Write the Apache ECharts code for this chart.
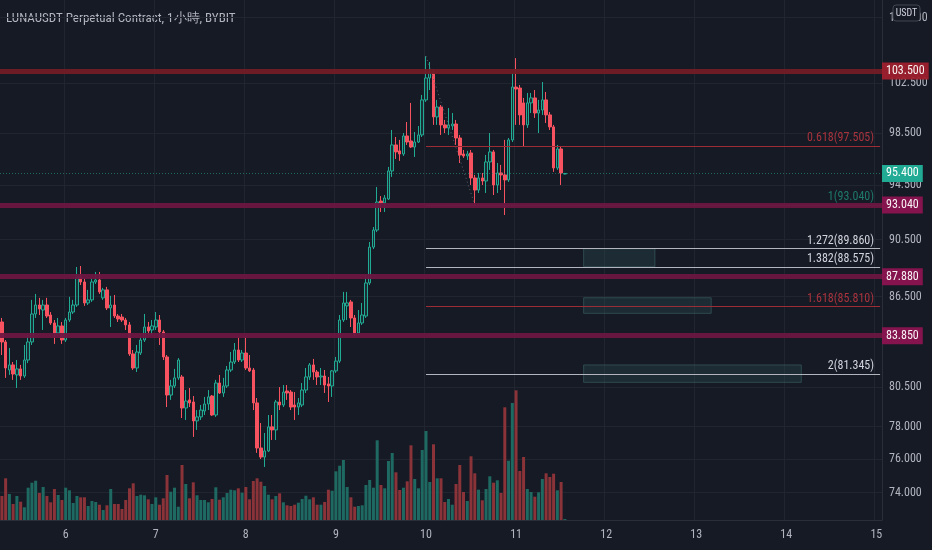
<!DOCTYPE html>
<html><head><meta charset="utf-8">
<script src="https://cdn.jsdelivr.net/npm/echarts@6/dist/echarts.min.js"></script>
<style>html,body{margin:0;padding:0;background:#161a25;}#c{width:932px;height:550px;}</style>
</head><body><div id="c"></div><script>
// ---- data ----
const titleText = 'LUNAUSDT Perpetual Contract, 1小時, BYBIT';
const startDay = 5, startHour = 7, slotCount = 235; // hourly slots on the time scale
// [open, close, low, high]
const candles = [
[84.77,83.43,82.57,85.04],[83.43,81.72,81.08,83.56],[81.59,81.92,81.27,83.03],[81.92,81.33,80.95,82.11],
[81.27,81.66,80.43,82.24],[81.66,81.20,80.95,81.92],[81.20,82.24,81.08,83.23],[82.24,83.43,82.04,83.89],
[83.43,85.31,83.23,86.27],[85.31,85.92,85.04,86.68],[85.92,85.65,85.24,86.41],[85.58,85.92,84.23,86.27],
[85.92,85.17,85.04,86.41],[85.24,84.70,84.57,85.44],[84.70,84.03,83.30,84.90],[84.03,84.50,83.83,85.04],
[84.50,83.56,83.30,84.77],[83.56,84.90,83.43,85.04],[84.90,85.44,84.77,86.48],[85.44,85.92,85.31,86.27],
[85.92,87.86,85.79,88.56],[87.86,87.51,87.30,88.63],[87.51,86.06,85.86,87.79],[86.06,86.27,85.92,86.96],
[86.27,87.51,86.13,87.79],[87.51,87.65,87.37,88.21],[87.65,86.82,86.68,88.21],[86.41,86.96,86.27,87.10],
[86.96,85.72,85.58,87.17],[85.72,85.92,84.43,86.55],[85.92,85.17,85.04,86.61],[85.17,84.97,84.77,85.31],
[85.10,84.90,84.77,85.31],[84.90,84.57,84.23,85.04],[84.57,82.64,82.51,84.77],[82.64,81.72,81.59,82.90],
[81.72,82.77,81.46,83.23],[82.70,83.56,82.57,83.83],[83.56,84.43,83.43,85.31],[84.43,84.16,83.89,84.77],
[84.23,84.50,83.89,84.90],[84.43,84.90,84.23,85.44],[84.90,84.10,83.23,85.24],[84.10,82.44,82.24,84.23],
[82.44,79.98,79.22,82.57],[79.98,80.56,79.67,80.95],[80.56,81.08,80.43,81.66],[81.08,82.24,80.95,82.37],
[81.14,79.16,78.53,81.27],[79.16,79.60,78.41,80.30],[79.67,79.48,79.22,80.43],[79.54,78.35,77.36,79.92],
[78.35,78.60,77.79,79.03],[78.60,79.03,78.41,79.35],[78.97,79.41,78.72,79.86],[79.41,79.86,79.03,80.30],
[79.92,78.72,78.66,79.98],[78.72,80.75,78.60,80.95],[80.75,80.11,80.05,81.27],[80.11,80.56,79.86,81.08],
[80.56,81.59,80.43,81.85],[81.59,82.11,81.46,82.77],[82.11,82.90,81.98,83.36],[82.90,82.24,82.11,83.76],
[82.24,82.70,82.11,82.90],[82.70,81.72,81.59,83.83],[81.72,81.53,81.46,82.57],[81.59,79.48,79.03,81.72],
[79.48,76.68,76.38,79.79],[76.68,76.13,76.01,78.22],[76.13,76.50,75.53,77.60],[76.50,77.98,76.44,78.72],
[77.98,77.79,77.17,78.72],[77.79,79.54,77.17,79.67],[79.54,79.35,79.03,80.49],[79.35,80.17,79.22,80.62],
[80.24,80.11,79.67,80.62],[80.17,79.22,79.03,80.30],[79.35,79.22,78.41,80.17],[79.22,79.48,78.72,79.79],
[79.35,80.30,79.22,80.75],[80.30,81.14,80.11,81.72],[81.14,81.92,80.95,82.04],[81.92,81.46,80.95,82.31],
[81.46,81.14,80.62,81.59],[81.14,81.20,80.62,81.72],[81.20,80.62,80.11,81.59],[80.69,80.56,79.54,81.14],
[80.56,81.53,79.86,81.59],[81.53,82.17,81.40,82.44],[82.17,84.90,82.04,85.24],[84.90,86.06,84.77,86.82],
[85.86,86.06,84.90,86.82],[86.13,85.04,84.43,86.27],[85.04,84.03,83.83,85.24],[84.03,84.70,83.89,85.58],
[84.70,85.24,84.57,86.06],[85.17,87.44,85.04,88.00],[87.44,89.97,87.30,90.34],[89.97,91.20,89.83,91.42],
[91.20,93.26,91.05,94.38],[93.33,93.19,92.52,93.70],[93.19,93.56,92.52,93.78],[93.48,95.59,93.41,95.90],
[95.59,97.59,95.14,98.76],[97.59,97.05,96.51,98.21],[97.13,96.89,96.36,97.98],[96.89,98.29,96.74,98.52],
[98.29,97.82,97.59,99.39],[97.90,97.43,97.36,100.91],[97.43,97.82,96.66,98.60],[97.82,98.37,97.74,99.07],
[98.37,101.15,98.21,101.55],[101.15,102.93,100.99,104.73],[102.93,103.34,101.95,104.25],[103.34,99.79,99.16,103.59],
[99.79,100.58,99.16,101.15],[100.58,99.16,98.37,100.74],[99.16,98.92,98.52,99.55],[98.92,99.16,98.37,100.50],
[99.08,99.23,98.76,100.10],[99.23,98.13,97.59,99.55],[98.13,96.82,96.20,98.37],[96.89,96.74,96.59,97.20],
[96.74,96.89,96.43,97.13],[96.97,95.06,94.53,97.20],[95.06,94.15,93.04,95.29],[94.15,95.06,93.93,95.44],
[95.06,94.83,94.53,95.44],[94.83,96.28,93.93,96.82],[96.28,97.05,95.67,98.52],[97.05,94.53,93.78,97.20],
[94.53,95.44,93.93,96.20],[95.44,95.29,94.15,96.05],[95.29,94.91,92.30,97.98],[94.91,97.98,94.76,98.13],
[97.98,102.19,97.82,103.34],[102.19,102.03,99.16,104.57],[102.11,99.95,99.16,102.36],[100.91,99.16,97.43,101.31],
[99.16,100.91,98.92,101.71],[100.91,101.31,100.10,101.71],[101.31,100.10,99.71,101.95],[100.10,100.34,98.52,101.15],
[100.34,101.15,99.95,102.60],[101.15,99.95,99.31,101.79],[99.95,99.00,98.76,100.18],[99.00,95.82,95.52,99.16],
[95.82,97.28,95.67,97.59],[97.28,95.44,94.53,97.43],[95.36,95.40,95.33,95.44]
];
const volumes = [
240,417,260,160,240,183,127,323,373,393,270,330,240,177,310,250,200,323,297,170,
240,227,227,140,190,180,153,100,147,310,160,160,110,200,317,367,240,253,247,207,
160,227,153,217,450,283,323,133,550,360,217,377,247,200,200,177,210,327,203,227,
270,303,297,317,273,330,207,390,417,383,340,253,207,240,267,177,147,140,153,173,
210,243,207,227,153,153,180,303,293,487,543,600,330,227,133,140,147,350,400,323,
797,350,317,590,670,477,300,323,387,747,410,317,700,890,380,757,417,417,180,210,
153,360,550,280,190,637,467,303,197,310,437,373,397,270,1127,593,1170,1297,490,630,
310,280,233,277,410,467,430,463,297,380,10
];
const priceTicks = [74, 76, 78, 80.5, 86.5, 90.5, 94.5, 98.5, 102.5, 108];
const zoneLevels = [103.5, 93.04, 87.88, 83.85];
const lastPrice = 95.4;
const fibRatios = ['0.618', '1', '1.272', '1.382', '1.618', '2'];
const fibPrices = [97.505, 93.04, 89.86, 88.575, 85.81, 81.345];
const fibHigh = 104.73;
const fibStart = '10 00:00', fibLowTime = '10 13:00', fibEnd = '15 01:00';
const boxStart = '11 18:00';
const boxEnds = ['12 13:00', '13 04:00', '14 04:00'];
const boxTops = [89.86, 86.42, 81.92];
const boxBottoms = [88.575, 85.35, 80.79];

// ---- styles ----
const BG = '#161a25', GRID = '#21252f', TXT = '#b2b5be';
const UP = '#22ab94', DOWN = '#f7525f';
const FONT = "'Liberation Sans Narrow','Roboto Condensed',Roboto,sans-serif";
const zoneLine = ['#721c26', '#6c1641', '#6c1641', '#6c1641'];
const zoneLabel = ['#9e1f2c', '#8b1350', '#8b1350', '#8b1350'];
const fibColors = ['#9c2d37', '#1f6e63', '#b2b5be', '#b2b5be', '#9c2d37', '#b2b5be'];
const fibText = ['#a8333d', '#1f7a6c', '#d1d4dc', '#d1d4dc', '#a8333d', '#d1d4dc'];

const cats = [];
for (let k = 0; k < slotCount; k++) {
  const t = startHour + k;
  const d = startDay + Math.floor(t / 24), h = t % 24;
  cats.push(d + ' ' + String(h).padStart(2, '0') + ':00');
}
const isMidnight = (i, v) => String(v).endsWith(' 00:00');

const lines = [];
fibPrices.forEach((p, i) => {
  lines.push([
    { coord: [fibStart, p], lineStyle: { color: fibColors[i], width: 1, type: 'solid' },
      label: { show: true, position: 'insideEndTop', formatter: fibRatios[i] + '(' + p.toFixed(3) + ')',
        color: fibText[i], fontSize: 12, fontFamily: FONT, distance: [6, 2] } },
    { coord: [fibEnd, p] }
  ]);
});
lines.push([
  { coord: [fibStart, fibHigh], lineStyle: { color: '#5d606b', width: 1, type: [1, 3] }, label: { show: false } },
  { coord: [fibLowTime, fibPrices[1]] }
]);
lines.push({ yAxis: lastPrice, lineStyle: { color: 'rgba(34,171,148,0.55)', width: 1, type: [1, 2] },
  label: { show: true, position: 'end', formatter: lastPrice.toFixed(3), color: '#fff', backgroundColor: UP,
    padding: [3, 4, 2, 4], fontSize: 12, fontFamily: FONT, distance: 0 } });
zoneLevels.forEach((p, i) => {
  lines.push({ yAxis: p, lineStyle: { color: zoneLine[i], width: 5, type: 'solid', opacity: 0.95 },
    label: { show: true, position: 'end', formatter: p.toFixed(3), color: '#fff', backgroundColor: zoneLabel[i],
      padding: [3, 4, 2, 4], fontSize: 12, fontFamily: FONT, distance: 0 } });
});

const areas = boxEnds.map((e, i) => [
  { coord: [boxStart, boxTops[i]] }, { coord: [e, boxBottoms[i]] }
]);

const chart = echarts.init(document.getElementById('c'), null, { renderer: 'canvas' });
chart.setOption({
  animation: false,
  backgroundColor: BG,
  grid: { left: 0, right: 50, top: 0, bottom: 30, containLabel: false },
  xAxis: {
    type: 'category', data: cats, boundaryGap: true,
    axisLine: { show: true, lineStyle: { color: '#2a2e39' } },
    axisTick: { show: false },
    axisLabel: { interval: isMidnight, formatter: v => v.split(' ')[0], color: TXT, fontSize: 12, fontFamily: FONT, margin: 9 },
    splitLine: { show: true, interval: isMidnight, lineStyle: { color: GRID, width: 1 } }
  },
  yAxis: [
    { type: 'log', logBase: 10, position: 'right', min: 72.41, max: 109.52,
      axisLine: { show: true, lineStyle: { color: '#2a2e39' } },
      axisTick: { show: false, customValues: priceTicks },
      axisLabel: { customValues: priceTicks, formatter: v => Number(v).toFixed(3), color: TXT, fontSize: 12, fontFamily: FONT, margin: 7 },
      splitLine: { show: true, lineStyle: { color: GRID, width: 1 } } },
    { type: 'value', min: 0, max: 5200, show: false, splitLine: { show: false } }
  ],
  series: [
    { type: 'bar', name: 'Volume', yAxisIndex: 1, data: volumes, barWidth: 3, z: 1,
      itemStyle: { color: p => { const c = candles[p.dataIndex]; return c[1] >= c[0] ? '#1e6a62' : '#8a3338'; } } },
    { type: 'candlestick', name: 'LUNAUSDT', data: candles, barWidth: 3, z: 3,
      itemStyle: { color: 'rgba(34,171,148,0.15)', color0: DOWN, borderColor: UP, borderColor0: DOWN, borderWidth: 1 },
      markArea: { silent: true, itemStyle: { color: 'rgba(50,95,95,0.28)', borderColor: 'rgba(70,120,120,0.45)', borderWidth: 1 }, data: areas },
      markLine: { silent: true, symbol: ['none', 'none'], animation: false, data: lines }
    }
  ],
  graphic: [
    { type: 'text', left: 6, top: 12, style: { text: titleText, fill: TXT, font: "13px " + FONT } },
    { type: 'rect', shape: { x: 893, y: 5, width: 27, height: 16, r: 3 }, style: { fill: BG, stroke: '#434651', lineWidth: 1 }, z: 100 },
    { type: 'text', x: 906.5, y: 13, z: 101, style: { text: 'USDT', fill: '#d1d4dc', font: "10px " + FONT, align: 'center', verticalAlign: 'middle' } }
  ]
});
</script></body></html>
